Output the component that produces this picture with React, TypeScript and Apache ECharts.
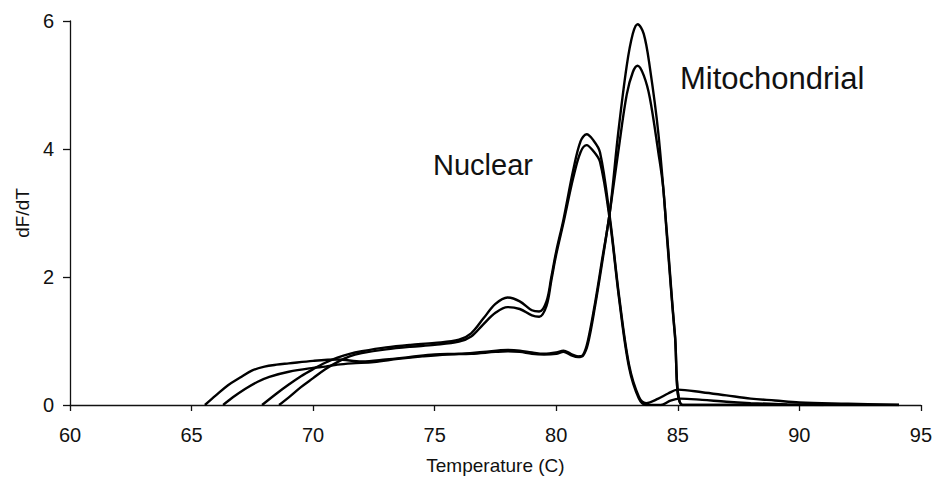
import React, { useEffect, useRef } from "react";
import * as echarts from "echarts";

// x-axis ticks
const xTicks = [60, 65, 70, 75, 80, 85, 90, 95];
const yTicks = [0, 2, 4, 6];

// Nuclear curve 1 (taller nuclear peak)
const nuc1Temp = [67.9, 68.5, 69, 69.5, 70, 70.5, 71, 71.5, 72, 73, 74, 75, 76, 76.5, 77, 77.5, 78, 78.5, 79, 79.3, 79.6, 79.8, 80, 80.3, 80.7, 81, 81.25, 81.5, 81.8, 82.2, 82.6, 83, 83.4, 83.7, 84.2, 84.6, 85, 86, 87, 88, 89, 90, 92, 94.1];
const nuc1Val = [0, 0.18, 0.32, 0.45, 0.56, 0.66, 0.74, 0.8, 0.84, 0.9, 0.94, 0.97, 1.02, 1.12, 1.35, 1.58, 1.68, 1.62, 1.48, 1.46, 1.62, 2.0, 2.4, 2.9, 3.67, 4.12, 4.23, 4.15, 3.95, 2.95, 1.66, 0.62, 0.13, 0.03, 0.1, 0.18, 0.24, 0.2, 0.15, 0.1, 0.07, 0.04, 0.02, 0];

// Nuclear curve 2
const nuc2Temp = [68.6, 69, 69.5, 70, 70.5, 71, 71.5, 72, 73, 74, 75, 76, 76.5, 77, 77.5, 78, 78.5, 79, 79.3, 79.6, 79.8, 80, 80.3, 80.7, 81, 81.25, 81.5, 81.8, 82.2, 82.6, 83, 83.4, 83.7, 84.3, 84.7, 85.1, 86, 87, 88, 89.5, 91];
const nuc2Val = [0, 0.12, 0.28, 0.42, 0.56, 0.67, 0.76, 0.81, 0.87, 0.91, 0.94, 0.99, 1.07, 1.26, 1.44, 1.53, 1.5, 1.4, 1.38, 1.55, 1.95, 2.35, 2.85, 3.55, 3.95, 4.06, 3.98, 3.8, 2.9, 1.62, 0.58, 0.1, 0, 0, 0.07, 0.1, 0.08, 0.05, 0.03, 0.01, 0];

// Mitochondrial curve 1 (taller peak)
const mito1Temp = [65.55, 66, 66.5, 67, 67.5, 68, 68.5, 69, 70, 71, 72, 73, 74, 75, 76, 77, 78, 78.5, 79, 79.5, 80, 80.3, 80.6, 80.9, 81.1, 81.3, 81.6, 81.9, 82.2, 82.55, 82.9, 83.15, 83.35, 83.6, 83.85, 84.2, 84.55, 84.88, 85.2, 87, 94.1];
const mito1Val = [0, 0.15, 0.31, 0.43, 0.54, 0.6, 0.63, 0.65, 0.69, 0.71, 0.68, 0.71, 0.75, 0.79, 0.8, 0.83, 0.86, 0.85, 0.82, 0.8, 0.82, 0.85, 0.8, 0.76, 0.78, 1.0, 1.6, 2.3, 3.0, 4.25, 5.3, 5.8, 5.95, 5.8, 5.28, 4.25, 2.7, 1.12, 0, 0, 0];

// Mitochondrial curve 2
const mito2Temp = [66.3, 66.7, 67.2, 67.7, 68.2, 69, 70, 70.5, 71, 71.6, 72.5, 73.5, 74.5, 75.5, 76.5, 77.5, 78, 78.5, 79, 79.5, 80, 80.3, 80.6, 80.9, 81.1, 81.3, 81.6, 81.9, 82.2, 82.55, 82.9, 83.15, 83.35, 83.6, 83.85, 84.2, 84.4, 84.55, 84.88, 85.2, 87, 94.1];
const mito2Val = [0, 0.12, 0.25, 0.36, 0.44, 0.52, 0.58, 0.6, 0.63, 0.65, 0.67, 0.72, 0.76, 0.79, 0.8, 0.83, 0.84, 0.83, 0.8, 0.79, 0.8, 0.83, 0.78, 0.75, 0.77, 0.95, 1.55, 2.25, 3.0, 3.95, 4.85, 5.2, 5.3, 5.15, 4.8, 3.95, 3.4, 2.65, 1.1, 0, 0, 0];

const labelNuclear = "Nuclear";
const labelMito = "Mitochondrial";
const xName = "Temperature (C)";
const yName = "dF/dT";

const FONT = "'Liberation Sans', Arial, Helvetica, sans-serif";

const zip = (xs: number[], ys: number[]) => xs.map((x, i) => [x, ys[i]]);

export default function App() {
  const ref = useRef<HTMLDivElement>(null);
  useEffect(() => {
    if (!ref.current) return;
    const chart = echarts.init(ref.current, undefined, { renderer: "svg" });
    const lineSeries = (name: string, data: number[][]) => ({
      name,
      type: "line",
      data,
      showSymbol: false,
      symbol: "none",
      smooth: 0.35,
      lineStyle: { color: "#000", width: 2.4 },
      clip: true,
    });
    chart.setOption({
      animation: false,
      backgroundColor: "#fff",
      grid: { left: 70, right: 14, top: 21, bottom: 77 },
      xAxis: {
        type: "value",
        min: xTicks[0],
        max: xTicks[xTicks.length - 1],
        interval: 5,
        name: xName,
        nameLocation: "middle",
        nameGap: 51,
        nameTextStyle: { fontFamily: FONT, fontSize: 19, color: "#111" },
        axisLine: { show: true, onZero: false, lineStyle: { color: "#111", width: 1.3 } },
        axisTick: { show: true, inside: false, length: 6, lineStyle: { color: "#111", width: 1.3 } },
        axisLabel: { fontFamily: FONT, fontSize: 20, color: "#111", margin: 20 },
        splitLine: { show: false },
      },
      yAxis: {
        type: "value",
        min: yTicks[0],
        max: yTicks[yTicks.length - 1],
        interval: 2,
        name: yName,
        nameLocation: "middle",
        nameGap: 35,
        nameTextStyle: { fontFamily: FONT, fontSize: 19, color: "#111" },
        axisLine: { show: true, lineStyle: { color: "#111", width: 1.3 } },
        axisTick: { show: true, inside: false, length: 7, lineStyle: { color: "#111", width: 1.3 } },
        axisLabel: { fontFamily: FONT, fontSize: 20, color: "#111", margin: 16 },
        splitLine: { show: false },
      },
      series: [
        lineSeries("Nuclear 1", zip(nuc1Temp, nuc1Val)),
        lineSeries("Nuclear 2", zip(nuc2Temp, nuc2Val)),
        lineSeries("Mitochondrial 1", zip(mito1Temp, mito1Val)),
        lineSeries("Mitochondrial 2", zip(mito2Temp, mito2Val)),
      ],
      graphic: [
        {
          type: "text",
          left: 433,
          top: 150,
          style: { text: labelNuclear, fontFamily: FONT, fontSize: 29, fill: "#111" },
        },
        {
          type: "text",
          left: 680,
          top: 63,
          style: { text: labelMito, fontFamily: FONT, fontSize: 31, fill: "#111" },
        },
      ],
    });
    return () => chart.dispose();
  }, []);
  return (
    <div
      ref={ref}
      style={{ position: "fixed", left: 0, top: 0, width: 935, height: 482, background: "#fff" }}
    />
  );
}
